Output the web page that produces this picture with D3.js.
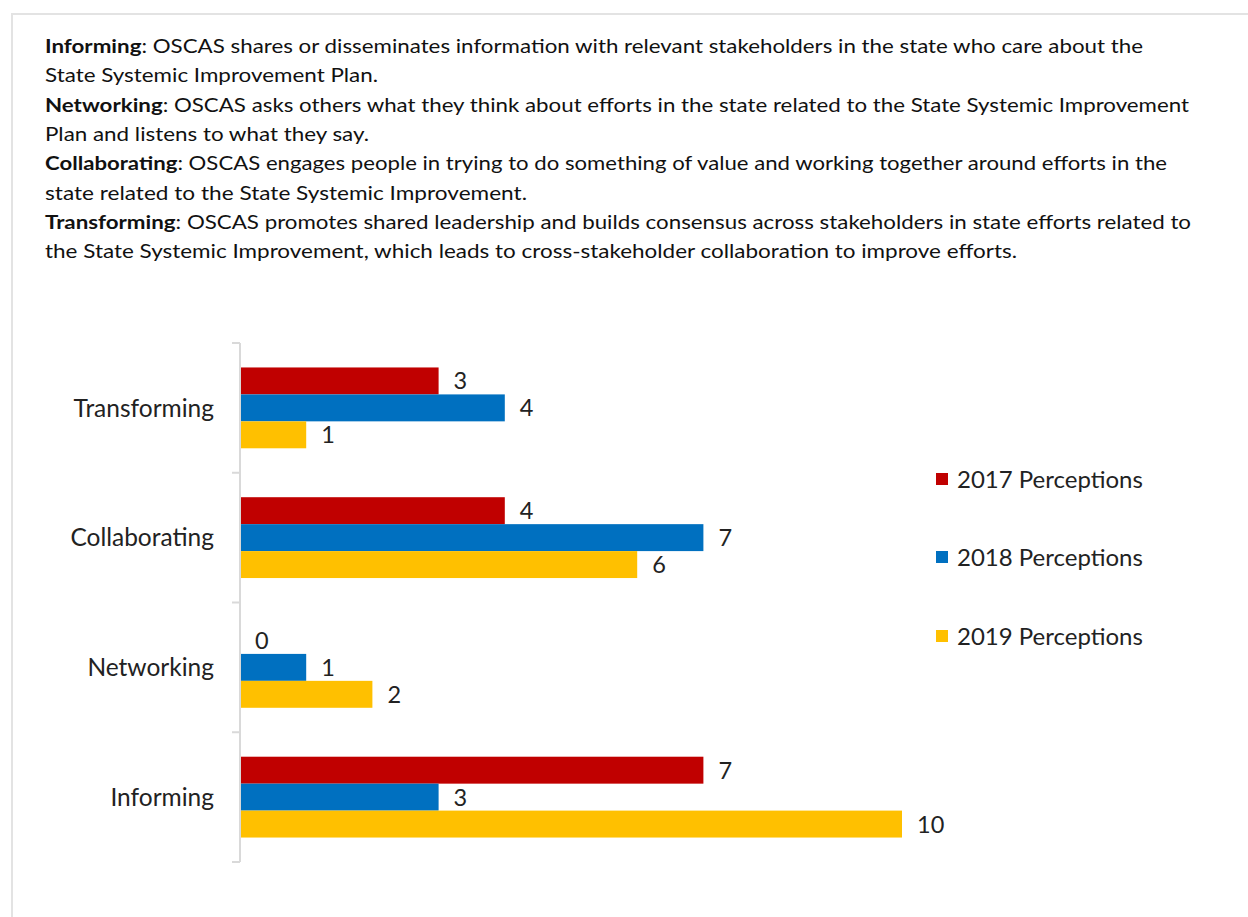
<!DOCTYPE html>
<html>
<head>
<meta charset="utf-8">
<script src="https://cdn.jsdelivr.net/npm/d3@7"></script>
<style>
  html, body { margin: 0; padding: 0; background: #fff; }
  svg { display: block; }
</style>
</head>
<body>
<script>
// Categories listed bottom-to-top as in the original chart
const categories = ["Informing", "Networking", "Collaborating", "Transforming"];
const seriesNames = ["2017 Perceptions", "2018 Perceptions", "2019 Perceptions"];
const values2017 = [7, 0, 4, 3];
const values2018 = [3, 1, 7, 4];
const values2019 = [10, 2, 6, 1];
const seriesColors = ["#C00000", "#0070C0", "#FFC000"];

// Definition paragraphs: [bold term, rest of first line, continuation line]
const definitions = [
  ["Informing", ": OSCAS shares or disseminates information with relevant stakeholders in the state who care about the",
   "State Systemic Improvement Plan."],
  ["Networking", ": OSCAS asks others what they think about efforts in the state related to the State Systemic Improvement",
   "Plan and listens to what they say."],
  ["Collaborating", ": OSCAS engages people in trying to do something of value and working together around efforts in the",
   "state related to the State Systemic Improvement."],
  ["Transforming", ": OSCAS promotes shared leadership and builds consensus across stakeholders in state efforts related to",
   "the State Systemic Improvement, which leads to cross-stakeholder collaboration to improve efforts."]
];
// Line widths used to fit the text block
const lineWidths = [[1098, 333], [1144, 324], [1122, 482], [1146, 972]];

const W = 1248, H = 917;
const svg = d3.select("body").append("svg").attr("width", W).attr("height", H);

// Frame
svg.append("path")
  .attr("d", `M12,${H} L12,14 L${W},14`)
  .attr("fill", "none").attr("stroke", "#e3e3e3").attr("stroke-width", 2);

// Definitions text block
const font = "Lato, 'Open Sans', sans-serif";
const textG = svg.append("g").attr("font-family", font).attr("font-size", 19).attr("fill", "#111");
const lineStep = 29.3;
definitions.forEach((d, i) => {
  const y1 = 53 + (2 * i) * lineStep;
  const y2 = 53 + (2 * i + 1) * lineStep;
  const t1 = textG.append("text").attr("x", 45).attr("y", y1)
    .attr("textLength", lineWidths[i][0]).attr("lengthAdjust", "spacingAndGlyphs");
  t1.append("tspan").attr("font-weight", 700).text(d[0]);
  t1.append("tspan").text(d[1]);
  textG.append("text").attr("x", 45).attr("y", y2)
    .attr("textLength", lineWidths[i][1]).attr("lengthAdjust", "spacingAndGlyphs")
    .text(d[2]);
});

// Chart
const plotTop = 343, plotBottom = 862, axisX = 240;
const x = d3.scaleLinear().domain([0, 10]).range([axisX, 902]);
const y = d3.scaleBand().domain(categories).range([plotBottom, plotTop]).paddingInner(0.377).paddingOuter(0.1885);
const ySub = d3.scaleBand().domain(d3.range(3)).range([0, y.bandwidth()]);

const seriesValues = [values2017, values2018, values2019];
const chart = svg.append("g");
const labelSize = 23.5;

seriesValues.forEach((vals, s) => {
  chart.selectAll(null).data(categories).enter().append("rect")
    .attr("x", axisX)
    .attr("y", (c) => y(c) + ySub(s))
    .attr("width", (c, i) => x(vals[i]) - axisX)
    .attr("height", ySub.bandwidth())
    .attr("fill", seriesColors[s]);
  chart.selectAll(null).data(categories).enter().append("text")
    .attr("x", (c, i) => x(vals[i]) + 15)
    .attr("y", (c) => y(c) + ySub(s) + ySub.bandwidth() / 2)
    .attr("dy", "0.36em")
    .attr("font-family", font).attr("font-size", labelSize).attr("fill", "#222")
    .text((c, i) => vals[i]);
});

// Category axis with tick marks on group boundaries
const yAxisG = chart.append("g").attr("stroke", "#d9d9d9").attr("stroke-width", 2).attr("fill", "none");
yAxisG.append("line").attr("x1", axisX).attr("x2", axisX).attr("y1", plotTop).attr("y2", plotBottom);
const step = (plotBottom - plotTop) / categories.length;
d3.range(categories.length + 1).forEach((k) => {
  const ty = plotTop + k * step;
  yAxisG.append("line").attr("x1", axisX - 8).attr("x2", axisX).attr("y1", ty).attr("y2", ty);
});
chart.selectAll(".cat").data(categories).enter().append("text")
  .attr("class", "cat")
  .attr("x", 214)
  .attr("y", (c) => y(c) + y.bandwidth() / 2)
  .attr("text-anchor", "end")
  .attr("dy", "0.36em")
  .attr("font-family", font).attr("font-size", 24.5).attr("fill", "#222")
  .text((c) => c);

// Legend
const legend = svg.append("g").attr("font-family", font).attr("font-size", 24).attr("fill", "#222");
const legendY = [479, 557, 636];
seriesNames.forEach((name, s) => {
  legend.append("rect").attr("x", 936).attr("y", legendY[s] - 6).attr("width", 12).attr("height", 12)
    .attr("fill", seriesColors[s]);
  legend.append("text").attr("x", 957).attr("y", legendY[s]).attr("dy", "0.36em").text(name);
});
</script>
</body>
</html>
